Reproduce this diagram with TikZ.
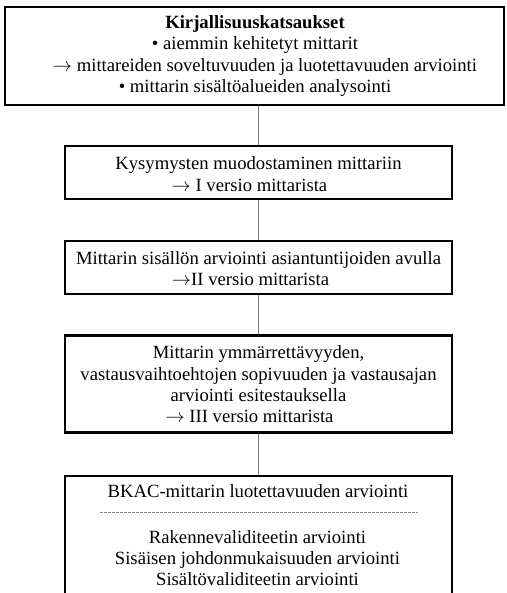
\documentclass[tikz,border=0pt]{standalone}
\usepackage{fontspec}
\setmainfont{Liberation Serif}
\definecolor{conn}{rgb}{0.5,0.5,0.5}
\begin{document}
\begin{tikzpicture}[x=0.75pt,y=-0.75pt,
  boxstyle/.style={draw=black,line width=1.7pt,rectangle,inner sep=0pt},
  txt/.style={align=center,font=\fontsize{14}{16}\selectfont,inner sep=0pt},
  connstyle/.style={draw=conn,line width=0.8pt}]
\useasboundingbox (0,0) rectangle (507,593);
\clip (0,0) rectangle (507,593);
\fill[white] (0,0) rectangle (507,593);
\node[boxstyle,minimum width=499*0.75pt,minimum height=98*0.75pt] (b1) at (254.5,56) {};
\node[txt] (t1) at (255,56) {\textbf{Kirjallisuuskatsaukset}\\ \textbullet{} aiemmin kehitetyt mittarit\\ \hspace*{15pt}$\rightarrow$ mittareiden soveltuvuuden ja luotettavuuden arviointi\\ \textbullet{} mittarin sisältöalueiden analysointi};
\node[boxstyle,minimum width=387*0.75pt,minimum height=53*0.75pt] (b2) at (258.5,172.5) {};
\node[txt] (t2) at (258.5,174) {Kysymysten muodostaminen mittariin\\ $\rightarrow$ I versio mittarista\hspace*{13.5pt}};
\node[boxstyle,minimum width=387*0.75pt,minimum height=53*0.75pt] (b3) at (258.5,267.5) {};
\node[txt] (t3) at (258.5,268.5) {Mittarin sisällön arviointi asiantuntijoiden avulla\\ $\rightarrow$II versio mittarista\hspace*{12pt}};
\node[boxstyle,minimum width=387*0.75pt,minimum height=97*0.75pt] (b4) at (258.5,384) {};
\node[txt] (t4) at (258.5,384.5) {Mittarin ymmärrettävyyden,\\ vastausvaihtoehtojen sopivuuden ja vastausajan\\ arviointi esitestauksella\\ $\rightarrow$ III versio mittarista\hspace*{13.5pt}};
\node[boxstyle,minimum width=387*0.75pt,minimum height=134*0.75pt] (b5) at (258.5,543) {};
\node[txt] (t5a) at (258,491) {BKAC-mittarin luotettavuuden arviointi};
\coordinate (dl) at (100,512);
\coordinate (dr) at (418,512);
\draw[conn,line width=0.5pt,dash pattern=on 2pt off 1pt] (dl) -- (dr);
\node[txt] (t5b) at (257.5,558) {Rakennevaliditeetin arviointi\\ Sisäisen johdonmukaisuuden arviointi\\ Sisältövaliditeetin arviointi};
\draw[connstyle] (b2.north) -- (b2.north |- b1.south);
\draw[connstyle] (b2.south) -- (b3.north);
\draw[connstyle] (b3.south) -- (b4.north);
\draw[connstyle] (b4.south) -- (b5.north);
\end{tikzpicture}
\end{document}
